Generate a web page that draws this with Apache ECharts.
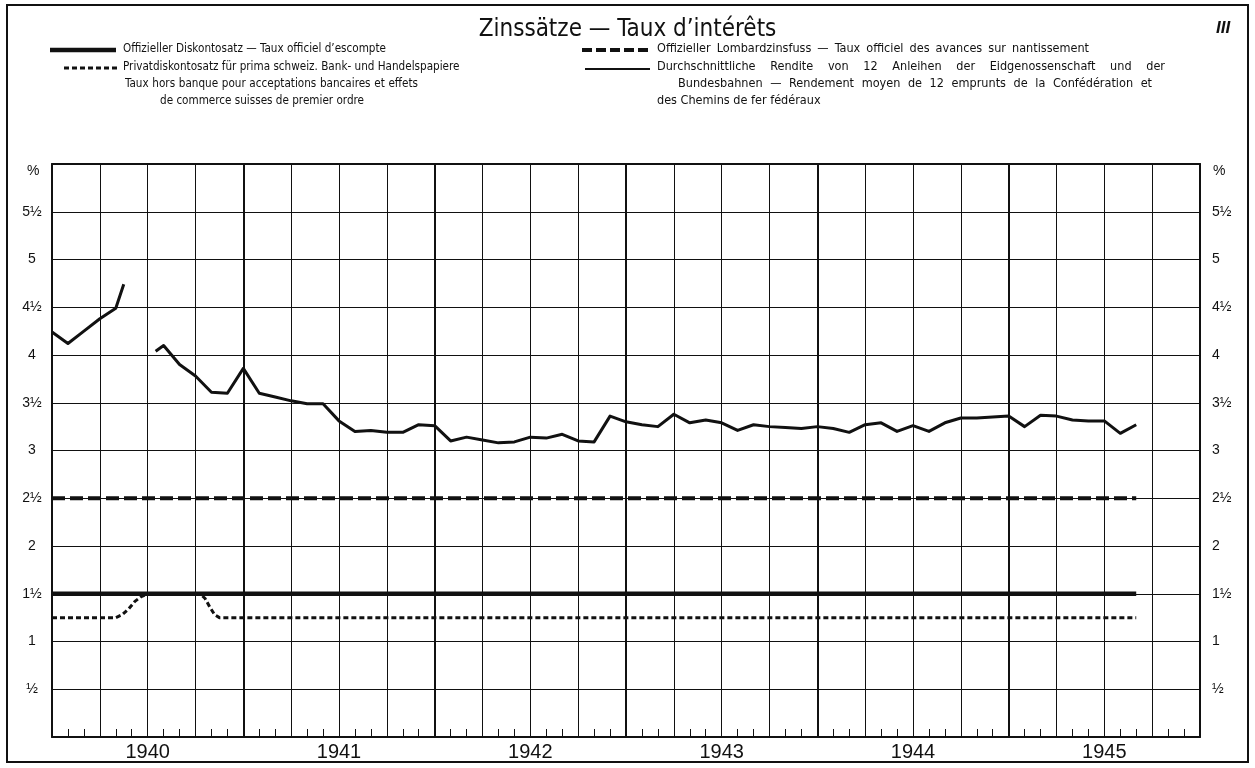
<!DOCTYPE html>
<html>
<head>
<meta charset="utf-8">
<script src="https://cdn.jsdelivr.net/npm/echarts@6/dist/echarts.min.js"></script>
<style>
html,body{margin:0;padding:0;background:#fff;}
#chart{width:1255px;height:768px;}
</style>
</head>
<body>
<div id="chart"></div>
<script>
// Month index: 0 = start of January 1940, 72 = end of December 1945
const yearLabels = ['1940', '1941', '1942', '1943', '1944', '1945'];
const yTickLabels = {0.5:'½',1:'1',1.5:'1½',2:'2',2.5:'2½',3:'3',3.5:'3½',4:'4',4.5:'4½',5:'5',5.5:'5½'};

const discountMonths = [0, 68];
const discountValues = [1.5, 1.5];

const lombardMonths = [0, 68];
const lombardValues = [2.5, 2.5];

const privateMonths = [0, 4, 4.4, 4.8, 5.2, 5.6, 6, 9.3, 9.6, 9.9, 10.2, 10.5, 68];
const privateValues = [1.25, 1.25, 1.28, 1.34, 1.42, 1.47, 1.5, 1.5, 1.45, 1.36, 1.28, 1.25, 1.25];

const yieldMonths = [0, 1, 2, 3, 4, 4.5, 5.5, 6.5, 7, 8, 9, 10, 11, 12, 13, 14, 15, 16, 17, 18, 19, 20,
  21, 22, 23, 24, 25, 26, 27, 28, 29, 30, 31, 32, 33, 34, 35, 36, 37, 38, 39, 40, 41, 42, 43, 44,
  45, 46, 47, 48, 49, 50, 51, 52, 53, 54, 55, 56, 57, 58, 59, 60, 61, 62, 63, 64, 65, 66, 67, 68];
const yieldValues = [4.24, 4.12, 4.25, 4.38, 4.49, 4.74, null, 4.04, 4.10, 3.90, 3.78, 3.61, 3.60, 3.86, 3.60,
  3.56, 3.52, 3.49, 3.49, 3.31, 3.20, 3.21, 3.19, 3.19, 3.27, 3.26, 3.10, 3.14, 3.11, 3.08, 3.09,
  3.14, 3.13, 3.17, 3.10, 3.09, 3.36, 3.30, 3.27, 3.25, 3.38, 3.29, 3.32, 3.29, 3.21, 3.27, 3.25,
  3.24, 3.23, 3.25, 3.23, 3.19, 3.27, 3.29, 3.20, 3.26, 3.20, 3.29, 3.34, 3.34, 3.35, 3.36, 3.25,
  3.37, 3.36, 3.32, 3.31, 3.31, 3.18, 3.27];

// legend texts
const legendDiscount = 'Offizieller Diskontosatz — Taux officiel d\u2019escompte';
const legendPrivate = ['Privatdiskontosatz für prima schweiz. Bank- und Handelspapiere',
  'Taux hors banque pour acceptations bancaires et effets',
  'de commerce suisses de premier ordre'];
const legendLombard = 'Offizieller Lombardzinsfuss — Taux officiel des avances sur nantissement';
const legendYield = ['Durchschnittliche Rendite von 12 Anleihen der Eidgenossenschaft und der',
  'Bundesbahnen — Rendement moyen de 12 emprunts de la Confédération et',
  'des Chemins de fer fédéraux'];

function pairs(xs, ys) { return xs.map((x, i) => [x, ys[i]]); }

const INK = '#111';
const FONT = '"Liberation Sans", Arial, sans-serif';
const NARROW = '"Liberation Sans Narrow", "DejaVu Sans Condensed", "Liberation Sans", sans-serif';

// text measuring helpers for the legend layout
const mctx = document.createElement('canvas').getContext('2d');
function measure(t, size) { mctx.font = size + 'px ' + NARROW; return mctx.measureText(t).width; }
let LSIZE = 12 * 337 / measure(legendPrivate[0], 12);
LSIZE = Math.max(10.5, Math.min(13, LSIZE));
let RSIZE = LSIZE * 1.08;

function textEl(x, y, t, size) {
  return {type: 'text', left: x, top: y - size * 0.62,
    style: {text: t, font: size + 'px ' + NARROW, fill: INK}};
}
function lineText(x, y, t, size, width) {
  if (!width) return [textEl(x, y, t, size)];
  const words = t.split(' ');
  const ws = words.map(w => measure(w, size));
  const total = ws.reduce((a, b) => a + b, 0);
  const sp = measure(' ', size);
  const gap = Math.max(sp, (width - total) / (words.length - 1));
  const out = [];
  let cx = x;
  words.forEach((w, i) => { out.push(textEl(cx, y, w, size)); cx += ws[i] + gap; });
  return out;
}

const chart = echarts.init(document.getElementById('chart'), null, {renderer: 'canvas'});

function yLabel(v) { return yTickLabels[v] || ''; }

const graphics = [
  {type: 'rect', shape: {x: 7, y: 5, width: 1241, height: 757}, style: {fill: null, stroke: INK, lineWidth: 2}, silent: true},
  {type: 'text', left: 1216, top: 20, style: {text: 'III', font: 'italic bold 17px ' + FONT, fill: INK}},
  {type: 'text', left: 27, top: 164, style: {text: '%', font: '14px ' + FONT, fill: INK}},
  {type: 'text', left: 1213, top: 164, style: {text: '%', font: '14px ' + FONT, fill: INK}},
  // legend keys
  {type: 'line', shape: {x1: 50, y1: 50, x2: 116, y2: 50}, style: {stroke: INK, lineWidth: 4.5}},
  {type: 'line', shape: {x1: 64, y1: 68, x2: 117, y2: 68}, style: {stroke: INK, lineWidth: 3, lineDash: [5, 3]}},
  {type: 'line', shape: {x1: 582, y1: 50, x2: 651, y2: 50}, style: {stroke: INK, lineWidth: 4, lineDash: [10, 4]}},
  {type: 'line', shape: {x1: 585, y1: 69, x2: 650, y2: 69}, style: {stroke: INK, lineWidth: 2}}
].concat(
  lineText(123, 50, legendDiscount, LSIZE),
  lineText(123, 68, legendPrivate[0], LSIZE),
  lineText(125, 85, legendPrivate[1], LSIZE, 293),
  lineText(160, 102, legendPrivate[2], LSIZE),
  lineText(657, 50, legendLombard, RSIZE, 432),
  lineText(657, 68, legendYield[0], RSIZE, 508),
  lineText(678, 85, legendYield[1], RSIZE, 474),
  lineText(657, 102, legendYield[2], RSIZE)
);

const option = {
  backgroundColor: '#fff',
  animation: false,
  title: {
    text: 'Zinssätze — Taux d\u2019intérêts',
    left: 'center', top: 13,
    textStyle: {fontFamily: NARROW, fontSize: 24, fontWeight: 'normal', color: INK}
  },
  grid: {left: 52, right: 55, top: 164, bottom: 31, containLabel: false},
  xAxis: [{
    type: 'value', min: 0, max: 72, interval: 3, position: 'bottom',
    axisLine: {show: true, onZero: false, lineStyle: {color: INK, width: 2}},
    splitLine: {show: true, lineStyle: {color: INK, width: 1}},
    axisTick: {show: true, inside: true, length: 8, lineStyle: {color: INK, width: 1}},
    minorTick: {show: true, splitNumber: 3, length: 8, lineStyle: {color: INK, width: 1}},
    axisLabel: {
      margin: 5, fontSize: 20, fontFamily: FONT, color: INK,
      formatter: v => ((v - 6) % 12 === 0 ? yearLabels[(v - 6) / 12] : '')
    }
  }, {
    type: 'value', min: 0, max: 72, interval: 12, position: 'top',
    axisLine: {show: true, onZero: false, lineStyle: {color: INK, width: 2}},
    splitLine: {show: true, lineStyle: {color: INK, width: 2}},
    axisTick: {show: false}, axisLabel: {show: false}
  }],
  yAxis: [{
    type: 'value', min: 0, max: 6, interval: 0.5, position: 'left',
    axisLine: {show: true, onZero: false, lineStyle: {color: INK, width: 2}},
    splitLine: {show: true, lineStyle: {color: INK, width: 1}},
    axisTick: {show: false},
    axisLabel: {
      align: 'center', margin: 20, padding: [0, 0, 13, 0],
      fontSize: 14, fontFamily: FONT, color: INK, formatter: yLabel
    }
  }, {
    type: 'value', min: 0, max: 6, interval: 0.5, position: 'right',
    axisLine: {show: true, onZero: false, lineStyle: {color: INK, width: 2}},
    splitLine: {show: false},
    axisTick: {show: false},
    axisLabel: {
      align: 'left', margin: 12, padding: [0, 0, 13, 0],
      fontSize: 14, fontFamily: FONT, color: INK, formatter: yLabel
    }
  }],
  series: [{
    name: 'Privatdiskontosatz', type: 'line', xAxisIndex: 0, yAxisIndex: 0,
    data: pairs(privateMonths, privateValues), symbol: 'none', z: 3,
    lineStyle: {color: INK, width: 3, type: [5, 3], cap: 'butt'}
  }, {
    name: 'Offizieller Diskontosatz', type: 'line', xAxisIndex: 0, yAxisIndex: 0,
    data: pairs(discountMonths, discountValues), symbol: 'none', z: 4,
    lineStyle: {color: INK, width: 4.5}
  }, {
    name: 'Offizieller Lombardzinsfuss', type: 'line', xAxisIndex: 0, yAxisIndex: 0,
    data: pairs(lombardMonths, lombardValues), symbol: 'none', z: 4,
    lineStyle: {color: INK, width: 4, type: [13, 5], cap: 'butt'}
  }, {
    name: 'Durchschnittliche Rendite', type: 'line', xAxisIndex: 0, yAxisIndex: 0,
    data: pairs(yieldMonths, yieldValues), symbol: 'none', connectNulls: false, z: 5,
    lineStyle: {color: INK, width: 3, join: 'round'}
  }],
  graphic: graphics
};
chart.setOption(option);
</script>
</body>
</html>
